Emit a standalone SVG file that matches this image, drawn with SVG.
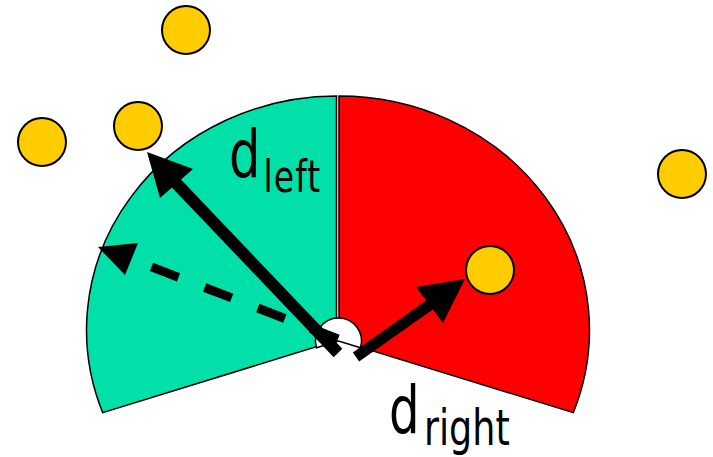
<svg xmlns="http://www.w3.org/2000/svg" width="713" height="457" viewBox="0 0 713 457">
  <style>
    .sector { stroke: #000; stroke-width: 1.5; stroke-linejoin: miter; }
    .ball { fill: #FFCC00; stroke: #000; stroke-width: 2; }
    .shaft { stroke: #000; fill: none; stroke-linecap: butt; }
    .head { fill: #000; stroke: none; }
    .lbl { font-family: "DejaVu Sans", "Liberation Sans", sans-serif; fill: #000; }
  </style>
  <rect width="713" height="457" fill="#fff"/>
  <g id="sector-left">
    <path class="sector" fill="#00E0A8" d="M336.5,340.5 L336.5,96 A250.5,234 0 0 0 102.7,412.7 Z"/>
  </g>
  <g id="sector-right">
    <path class="sector" fill="#FF0000" d="M339,340.5 L339,96 A250.5,234 0 0 1 573.3,412.7 Z"/>
  </g>
  <g id="robot">
    <path class="sector" fill="#fff" d="M338.5,341 L316.5,347.7 A23,23 0 1 1 360.5,347.7 Z"/>
  </g>
  <g id="ball-1"><circle class="ball" cx="186" cy="30" r="24"/></g>
  <g id="ball-2"><circle class="ball" cx="42" cy="142" r="24"/></g>
  <g id="ball-3"><circle class="ball" cx="138" cy="126" r="24"/></g>
  <g id="ball-4"><circle class="ball" cx="682" cy="174" r="24"/></g>
  <g id="ball-5"><circle class="ball" cx="490" cy="270" r="24"/></g>
  <g id="connectors">
    <line class="shaft" x1="338" y1="339" x2="131" y2="259" stroke-width="9" stroke-dasharray="29 28"/>
    <polygon class="head" points="98,247 138,243 125,275"/>
    <line class="shaft" x1="338" y1="353" x2="175" y2="182" stroke-width="12"/>
    <polygon class="head" points="147,152 193,169 160,198"/>
    <line class="shaft" x1="356" y1="357" x2="431" y2="304" stroke-width="11"/>
    <polygon class="head" points="465,279 416,287 443,323"/>
  </g>
  <g id="label-left">
    <text class="lbl" transform="translate(229,177) scale(0.75,1)" font-size="66">d<tspan font-size="44" dx="4" dy="15" letter-spacing="1.5">left</tspan></text>
  </g>
  <g id="label-right">
    <text class="lbl" transform="translate(389,433) scale(0.73,1)" font-size="66">d<tspan font-size="50" dx="6" dy="12">right</tspan></text>
  </g>
</svg>
